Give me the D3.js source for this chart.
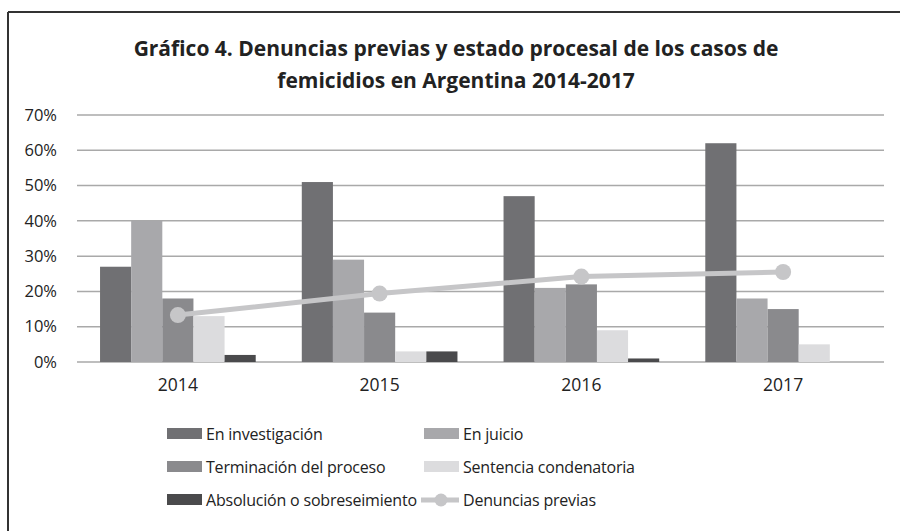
<!DOCTYPE html>
<html>
<head>
<meta charset="utf-8">
<script src="https://cdn.jsdelivr.net/npm/d3@7"></script>
<style>
  body { margin: 0; background: #fff; }
  svg text { font-family: "Open Sans", "Noto Sans", sans-serif; fill: #222; }
</style>
</head>
<body>
<div id="chart"></div>
<script>
const years = ["2014", "2015", "2016", "2017"];
const seriesNames = ["En investigación", "En juicio", "Terminación del proceso", "Sentencia condenatoria", "Absolución o sobreseimiento"];
const enInvestigacion = [27, 51, 47, 62];
const enJuicio = [40, 29, 21, 18];
const terminacion = [18, 14, 22, 15];
const sentencia = [13, 3, 9, 5];
const absolucion = [2, 3, 1, 0];
const denunciasPrevias = [13.3, 19.4, 24.2, 25.5];
const yTicks = [0, 10, 20, 30, 40, 50, 60, 70];

const barColors = ["#707073", "#a8a8ab", "#8a8a8d", "#dcdcde", "#4a4a4c"];
const lineColor = "#c6c6c8";

const W = 900, H = 531;
const margin = { top: 115, right: 16, bottom: 169, left: 77 };

const svg = d3.select("#chart").append("svg")
    .attr("width", W)
    .attr("height", H);

// frame (only top and left edges visible)
svg.append("line").attr("x1", 8).attr("x2", W).attr("y1", 12).attr("y2", 12)
   .attr("stroke", "#333").attr("stroke-width", 2);
svg.append("line").attr("x1", 8).attr("x2", 8).attr("y1", 12).attr("y2", H)
   .attr("stroke", "#333").attr("stroke-width", 2);

// title
const title = svg.append("text")
    .attr("x", 456)
    .attr("text-anchor", "middle")
    .style("font-size", "21px")
    .style("font-weight", "bold");
title.append("tspan").attr("x", 456).attr("y", 56)
    .text("Gráfico 4. Denuncias previas y estado procesal de los casos de");
title.append("tspan").attr("x", 456).attr("y", 88)
    .text("femicidios en Argentina 2014-2017");

const data = years.map((yr, i) => ({
    year: yr,
    values: [enInvestigacion[i], enJuicio[i], terminacion[i], sentencia[i], absolucion[i]]
}));

const x0 = d3.scaleBand()
    .domain(years)
    .range([margin.left, W - margin.right]);

const x1 = d3.scaleBand()
    .domain(d3.range(seriesNames.length))
    .range([0, x0.bandwidth()])
    .paddingOuter(0.74)
    .paddingInner(0);

const y = d3.scaleLinear()
    .domain([0, 70])
    .range([H - margin.bottom, margin.top]);

// gridlines
svg.append("g")
   .selectAll("line")
   .data(yTicks)
   .enter()
   .append("line")
   .attr("x1", margin.left)
   .attr("x2", W - margin.right)
   .attr("y1", d => y(d))
   .attr("y2", d => y(d))
   .attr("stroke", "#a9a9a9")
   .attr("stroke-width", 1.5);

// y axis labels
const yAxis = svg.append("g")
    .attr("transform", `translate(${margin.left},0)`)
    .call(d3.axisLeft(y).tickValues(yTicks).tickFormat(d => d + "%").tickSize(0).tickPadding(20));
yAxis.select(".domain").remove();
yAxis.selectAll("text").style("font-size", "16.5px").attr("fill", "#222");

// x axis labels
const xAxis = svg.append("g")
    .attr("transform", `translate(0,${H - margin.bottom})`)
    .call(d3.axisBottom(x0).tickSize(0).tickPadding(17));
xAxis.select(".domain").remove();
xAxis.selectAll("text").style("font-size", "17.5px").attr("fill", "#222");

// bars
const groups = svg.append("g")
    .selectAll("g")
    .data(data)
    .enter()
    .append("g")
    .attr("transform", d => `translate(${x0(d.year)},0)`);

groups.selectAll("rect")
    .data(d => d.values.map((v, k) => ({ k: k, v: v })))
    .enter()
    .append("rect")
    .attr("x", d => x1(d.k))
    .attr("width", x1.bandwidth())
    .attr("y", d => y(d.v))
    .attr("height", d => y(0) - y(d.v))
    .attr("fill", d => barColors[d.k]);

// line
const line = d3.line()
    .x((d, i) => x0(years[i]) + x0.bandwidth() / 2)
    .y(d => y(d));

svg.append("path")
   .datum(denunciasPrevias)
   .attr("d", line)
   .attr("fill", "none")
   .attr("stroke", lineColor)
   .attr("stroke-width", 5);

svg.append("g")
   .selectAll("circle")
   .data(denunciasPrevias)
   .enter()
   .append("circle")
   .attr("cx", (d, i) => x0(years[i]) + x0.bandwidth() / 2)
   .attr("cy", d => y(d))
   .attr("r", 8)
   .attr("fill", lineColor);

// legend
const legendItems = [
    { name: seriesNames[0], type: "bar", color: barColors[0] },
    { name: seriesNames[1], type: "bar", color: barColors[1] },
    { name: seriesNames[2], type: "bar", color: barColors[2] },
    { name: seriesNames[3], type: "bar", color: barColors[3] },
    { name: seriesNames[4], type: "bar", color: barColors[4] },
    { name: "Denuncias previas", type: "line", color: lineColor }
];
const colX = [167, 424];
const rowY = [434, 467, 500];

const legend = svg.append("g")
    .selectAll("g")
    .data(legendItems)
    .enter()
    .append("g")
    .attr("transform", (d, i) => `translate(${colX[i % 2]},${rowY[Math.floor(i / 2)]})`);

legend.filter(d => d.type === "bar")
    .append("rect")
    .attr("x", 0).attr("y", -6)
    .attr("width", 35).attr("height", 11)
    .attr("fill", d => d.color);

const lineLeg = legend.filter(d => d.type === "line");
lineLeg.append("line")
    .attr("x1", -3).attr("x2", 35).attr("y1", 0).attr("y2", 0)
    .attr("stroke", d => d.color).attr("stroke-width", 5);
lineLeg.append("circle")
    .attr("cx", 17).attr("cy", 0).attr("r", 6.5)
    .attr("fill", d => d.color);

legend.append("text")
    .attr("x", 39)
    .attr("y", 0)
    .attr("dy", "0.35em")
    .style("font-size", "16px")
    .style("letter-spacing", "-0.2px")
    .text(d => d.name);
</script>
</body>
</html>
